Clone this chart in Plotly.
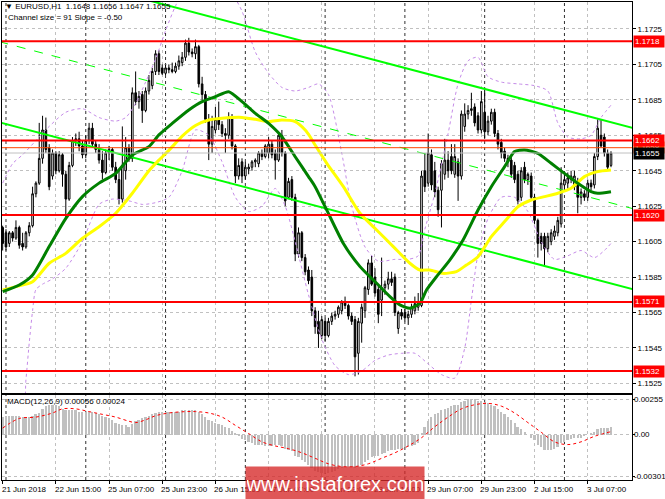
import plotly.graph_objects as go

# ---------------- data ----------------
bars = list(range(184))
opens = [
    1.1613,1.1610,1.1604,1.1610,1.1607,1.1613,1.1604,1.1602,1.1610,1.1614,
    1.1632,1.1638,1.1652,1.1668,1.1658,1.1642,1.1655,1.1645,1.1654,1.1643,
    1.1629,1.1648,1.1662,1.1663,1.1659,1.1654,1.1662,1.1669,1.1660,1.1657,
    1.1651,1.1644,1.1655,1.1657,1.1647,1.1640,1.1629,1.1645,1.1658,1.1652,
    1.1689,1.1684,1.1688,1.1679,1.1690,1.1693,1.1701,1.1711,1.1703,1.1700,
    1.1703,1.1702,1.1701,1.1704,1.1706,1.1709,1.1717,1.1712,1.1711,1.1715,
    1.1694,1.1688,1.1674,1.1660,1.1668,1.1674,1.1671,1.1666,1.1665,1.1675,
    1.1659,1.1642,1.1650,1.1642,1.1646,1.1647,1.1650,1.1649,1.1655,1.1653,
    1.1655,1.1660,1.1655,1.1651,1.1665,1.1655,1.1630,1.1640,1.1630,1.1598,
    1.1610,1.1596,1.1589,1.1585,1.1566,1.1560,1.1552,1.1560,1.1552,1.1560,
    1.1563,1.1564,1.1566,1.1571,1.1569,1.1563,1.1561,1.1542,1.1559,1.1566,
    1.1578,1.1593,1.1585,1.1578,1.1572,1.1579,1.1581,1.1584,1.1585,1.1556,
    1.1565,1.1565,1.1562,1.1564,1.1566,1.1568,1.1569,1.1645,1.1638,1.1654,
    1.1645,1.1634,1.1634,1.1643,1.1651,1.1653,1.1643,1.1650,1.1642,1.1670,
    1.1677,1.1679,1.1681,1.1676,1.1668,1.1678,1.1667,1.1673,1.1678,1.1666,
    1.1661,1.1656,1.1652,1.1651,1.1648,1.1643,1.1630,1.1647,1.1640,1.1642,
    1.1630,1.1617,1.1608,1.1608,1.1601,1.1605,1.1608,1.1610,1.1615,1.1637,
    1.1638,1.1640,1.1636,1.1638,1.1630,1.1632,1.1630,1.1638,1.1637,1.1653,
    1.1665,1.1664,1.1655,1.1648]
highs = [
    1.1614,1.1612,1.1611,1.1611,1.1617,1.1614,1.1610,1.1611,1.1616,1.1636,
    1.1639,1.1672,1.1676,1.1675,1.1660,1.1657,1.1656,1.1656,1.1655,1.1645,
    1.1650,1.1664,1.1666,1.1667,1.1662,1.1665,1.1672,1.1672,1.1662,1.1660,
    1.1656,1.1657,1.1659,1.1658,1.1650,1.1645,1.1670,1.1664,1.1660,1.1692,
    1.1701,1.1690,1.1690,1.1692,1.1699,1.1703,1.1713,1.1713,1.1705,1.1705,
    1.1705,1.1706,1.1706,1.1710,1.1712,1.1719,1.1720,1.1714,1.1719,1.1716,
    1.1698,1.1690,1.1677,1.1676,1.1681,1.1684,1.1673,1.1669,1.1678,1.1677,
    1.1660,1.1652,1.1652,1.1650,1.1649,1.1651,1.1652,1.1656,1.1657,1.1660,
    1.1664,1.1662,1.1657,1.1666,1.1668,1.1656,1.1641,1.1642,1.1632,1.1613,
    1.1611,1.1598,1.1591,1.1589,1.1568,1.1566,1.1563,1.1562,1.1562,1.1565,
    1.1566,1.1569,1.1572,1.1574,1.1570,1.1565,1.1563,1.1562,1.1570,1.1580,
    1.1595,1.1597,1.1590,1.1580,1.1596,1.1583,1.1588,1.1588,1.1587,1.1566,
    1.1567,1.1567,1.1566,1.1570,1.1574,1.1576,1.1645,1.1655,1.1666,1.1657,
    1.1650,1.1636,1.1651,1.1663,1.1656,1.1660,1.1660,1.1652,1.1679,1.1683,
    1.1682,1.1689,1.1683,1.1678,1.1690,1.1691,1.1676,1.1680,1.1680,1.1668,
    1.1663,1.1658,1.1654,1.1653,1.1650,1.1645,1.1647,1.1650,1.1644,1.1644,
    1.1632,1.1618,1.1610,1.1610,1.1610,1.1612,1.1614,1.1619,1.1647,1.1643,
    1.1644,1.1645,1.1645,1.1641,1.1635,1.1634,1.1640,1.1640,1.1655,1.1674,
    1.1674,1.1666,1.1657,1.1656]
lows = [
    1.1600,1.1600,1.1602,1.1605,1.1606,1.1601,1.1600,1.1601,1.1608,1.1613,
    1.1630,1.1637,1.1649,1.1655,1.1634,1.1640,1.1643,1.1644,1.1636,1.1618,
    1.1628,1.1647,1.1659,1.1656,1.1652,1.1652,1.1660,1.1658,1.1655,1.1649,
    1.1640,1.1643,1.1651,1.1645,1.1638,1.1626,1.1627,1.1640,1.1650,1.1650,
    1.1682,1.1680,1.1672,1.1678,1.1688,1.1691,1.1699,1.1699,1.1699,1.1699,
    1.1700,1.1700,1.1700,1.1702,1.1704,1.1707,1.1710,1.1709,1.1708,1.1692,
    1.1685,1.1672,1.1651,1.1655,1.1666,1.1668,1.1664,1.1655,1.1663,1.1657,
    1.1638,1.1640,1.1638,1.1640,1.1643,1.1645,1.1647,1.1647,1.1651,1.1652,
    1.1652,1.1652,1.1640,1.1650,1.1653,1.1625,1.1629,1.1628,1.1594,1.1596,
    1.1594,1.1586,1.1581,1.1563,1.1553,1.1545,1.1550,1.1549,1.1551,1.1558,
    1.1561,1.1562,1.1564,1.1567,1.1561,1.1558,1.1529,1.1530,1.1548,1.1562,
    1.1575,1.1580,1.1574,1.1559,1.1563,1.1575,1.1578,1.1580,1.1563,1.1553,
    1.1561,1.1560,1.1558,1.1562,1.1564,1.1566,1.1568,1.1633,1.1636,1.1634,
    1.1630,1.1619,1.1613,1.1640,1.1641,1.1643,1.1641,1.1628,1.1640,1.1667,
    1.1674,1.1676,1.1670,1.1666,1.1666,1.1663,1.1665,1.1671,1.1664,1.1657,
    1.1652,1.1650,1.1647,1.1641,1.1638,1.1626,1.1628,1.1638,1.1637,1.1628,
    1.1615,1.1596,1.1600,1.1591,1.1599,1.1603,1.1606,1.1608,1.1613,1.1634,
    1.1635,1.1638,1.1634,1.1621,1.1626,1.1628,1.1628,1.1634,1.1635,1.1651,
    1.1658,1.1653,1.1645,1.1647]
closes = [
    1.1604,1.1602,1.1610,1.1607,1.1613,1.1603,1.1602,1.1610,1.1614,1.1632,
    1.1638,1.1652,1.1668,1.1657,1.1636,1.1655,1.1645,1.1654,1.1643,1.1629,
    1.1648,1.1662,1.1663,1.1659,1.1654,1.1662,1.1669,1.1660,1.1657,1.1651,
    1.1644,1.1655,1.1657,1.1647,1.1640,1.1629,1.1648,1.1658,1.1652,1.1689,
    1.1684,1.1687,1.1679,1.1690,1.1696,1.1701,1.1711,1.1701,1.1700,1.1703,
    1.1702,1.1701,1.1704,1.1707,1.1709,1.1717,1.1712,1.1711,1.1715,1.1694,
    1.1688,1.1674,1.1660,1.1670,1.1674,1.1671,1.1666,1.1665,1.1675,1.1659,
    1.1642,1.1648,1.1642,1.1647,1.1647,1.1650,1.1651,1.1655,1.1653,1.1659,
    1.1660,1.1654,1.1651,1.1665,1.1655,1.1628,1.1639,1.1630,1.1598,1.1610,
    1.1596,1.1588,1.1583,1.1566,1.1557,1.1553,1.1561,1.1552,1.1560,1.1563,
    1.1564,1.1568,1.1571,1.1569,1.1563,1.1560,1.1540,1.1560,1.1568,1.1579,
    1.1593,1.1581,1.1576,1.1564,1.1579,1.1581,1.1584,1.1582,1.1565,1.1565,
    1.1563,1.1562,1.1564,1.1568,1.1570,1.1571,1.1642,1.1636,1.1655,1.1637,
    1.1633,1.1623,1.1649,1.1651,1.1645,1.1645,1.1653,1.1642,1.1677,1.1677,
    1.1679,1.1680,1.1672,1.1668,1.1684,1.1667,1.1673,1.1678,1.1666,1.1660,
    1.1655,1.1652,1.1650,1.1643,1.1640,1.1628,1.1645,1.1640,1.1643,1.1630,
    1.1617,1.1604,1.1604,1.1601,1.1608,1.1610,1.1611,1.1617,1.1638,1.1640,
    1.1641,1.1642,1.1642,1.1630,1.1633,1.1630,1.1638,1.1636,1.1653,1.1669,
    1.1659,1.1655,1.1647,1.1655]

tick_bars = [0, 16, 32, 48, 64, 80, 96, 112, 128, 144, 160, 176]
tick_labels = ["21 Jun 2018", "22 Jun 15:00", "25 Jun 07:00", "25 Jun 23:00",
               "26 Jun 15:00", "27 Jun 07:00", "27 Jun 23:00", "28 Jun 15:00",
               "29 Jun 07:00", "29 Jun 23:00", "2 Jul 15:00", "3 Jul 07:00"]
day_start_bars = [1, 25, 49, 73, 97, 121, 145, 169]

price_ticks = [1.1525, 1.1545, 1.1565, 1.1585, 1.1605, 1.1625, 1.1645,
               1.1665, 1.1685, 1.1705, 1.1725]
red_levels = [1.1718, 1.1662, 1.1620, 1.1571, 1.1532]
orange_level = 1.1658
bid_level = 1.1655

green_ma_bars = [0,5,9,14,19,24,29,34,39,44,47,51,56,60,64,68,72,76,80,84,88,92,94,97.5,
                 102.5,107.5,112.5,116.5,119.5,122.5,125.5,127.5,130.5,134.5,138.5,143,147,
                 151,154,157,161,165,169,173,177,179,183]
green_ma_vals = [1.15768,1.15805,1.15862,1.16022,1.16181,1.16304,1.16380,1.16435,1.16539,1.16586,
                 1.16652,1.16717,1.16793,1.16840,1.16868,1.16896,1.16840,1.16774,1.16717,1.16642,
                 1.16529,1.16417,1.16360,1.16228,1.16040,1.15909,1.15815,1.15740,1.15693,1.15674,
                 1.15702,1.15777,1.15852,1.15946,1.16059,1.16228,1.16360,1.16473,1.16558,1.16567,
                 1.16548,1.16492,1.16435,1.16379,1.16332,1.16323,1.16332]
yellow_ma_bars = [0,4,9,14,19,24,29,34,39,44,47,50,54,58,62,66,72,76,80,84,88,91,92.5,94,97.5,
                  102.5,107.5,112.5,117.5,122.5,125.5,128.5,132.5,136.5,139.5,143,147,151,155,
                  159,163,167,171,175,179,183]
yellow_ma_vals = [1.15777,1.15796,1.15824,1.15928,1.15984,1.16069,1.16134,1.16210,1.16323,1.16450,
                  1.16510,1.16565,1.16645,1.16705,1.16736,1.16746,1.16751,1.16740,1.16727,1.16736,
                  1.16727,1.16680,1.16642,1.16595,1.16492,1.16360,1.16210,1.16116,1.16022,1.15928,
                  1.15890,1.15890,1.15871,1.15881,1.15918,1.15965,1.16078,1.16163,1.16247,1.16285,
                  1.16304,1.16323,1.16351,1.16417,1.16445,1.16454]

band_upper_bars = [0,3,6,10,14,19,24,29,34,37,40,43,46,49,52,55,60,65,69,72,76,80,84,88,92,95,
                   98,102,105,109,113,118,122,125,127,130,134,137,140,143,146,150,155,160,164,
                   167,170,174,177,180,183]
band_upper_vals = [1.1638,1.1649,1.1654,1.1662,1.1670,1.1678,1.1680,1.1675,1.1673,1.1675,
                   1.1683,1.1695,1.1708,1.1724,1.1738,1.1748,1.1752,1.1752,1.1745,1.1735,
                   1.1712,1.1700,1.1692,1.1690,1.1692,1.1694,1.1688,1.1655,1.1625,1.1602,
                   1.1594,1.1595,1.1595,1.1597,1.1612,1.1632,1.1666,1.1694,1.1707,1.1709,
                   1.1698,1.1695,1.1694,1.1693,1.1690,1.1672,1.1664,1.1663,1.1665,1.1675,1.1682]
band_lower_bars = [0,6,7,8,9,10,12,15,19,24,29,33,38,42,46,50,54,58,62,66,70,74,78,82,85,88,
                   92,96,100,104,108,112,116,120,124,128,132,136,139,141,143,146,150,154,158,
                   162,166,170,174,178,181,183]
band_lower_vals = [1.1510,1.1510,1.1527,1.1548,1.1566,1.1578,1.1581,1.1584,1.1590,1.1605,
                   1.1626,1.1629,1.1628,1.1626,1.1627,1.1630,1.1645,1.1668,1.1665,1.1650,
                   1.1630,1.1622,1.1625,1.1635,1.1625,1.1605,1.1575,1.1550,1.1535,1.1530,
                   1.1532,1.1538,1.1541,1.1542,1.1542,1.1536,1.1530,1.1528,1.1545,1.1572,
                   1.1598,1.1618,1.1630,1.1630,1.1622,1.1605,1.1595,1.1597,1.1600,1.1596,
                   1.1600,1.1604]

channel_bars = [-1, 190]
channel_upper = [1.17633, 1.16689]
channel_mid = [1.17178, 1.16234]
channel_lower = [1.16723, 1.15779]

macd_hist = [
    0.0013,0.0014,0.0014,0.0014,0.0014,0.0014,0.0013,0.0013,0.0013,0.0014,0.0015,0.0016,
    0.0019,0.0021,0.0022,0.0022,0.0022,0.0021,0.0019,0.0018,0.0018,0.0018,0.0018,0.0017,
    0.0017,0.0017,0.0017,0.0017,0.0016,0.0015,0.0014,0.0013,0.0012,0.0011,0.0009,0.0008,
    0.0007,0.0007,0.0006,0.0008,0.0010,0.0011,0.0012,0.0013,0.0014,0.0015,0.0016,0.0017,
    0.0017,0.0017,0.0017,0.0017,0.0017,0.0017,0.0018,0.0018,0.0018,0.0018,0.0018,0.0017,
    0.0015,0.0013,0.0011,0.0010,0.0009,0.0008,0.0007,0.0006,0.0005,0.0003,0.0001,-0.0001,
    -0.0003,-0.0004,-0.0005,-0.0006,-0.0007,-0.0007,-0.0007,-0.0008,-0.0008,-0.0008,-0.0007,-0.0007,
    -0.0008,-0.0010,-0.0011,-0.0012,-0.0015,-0.0016,-0.0018,-0.0020,-0.0022,-0.0024,-0.0026,-0.0027,
    -0.0028,-0.0028,-0.0028,-0.0027,-0.0026,-0.0025,-0.0024,-0.0023,-0.0023,-0.0023,-0.0024,-0.0023,
    -0.0022,-0.0020,-0.0018,-0.0016,-0.0015,-0.0015,-0.0014,-0.0013,-0.0012,-0.0011,-0.0011,-0.0010,
    -0.0010,-0.0009,-0.0009,-0.0008,-0.0007,-0.0006,0.0001,0.0006,0.0010,0.0013,0.0015,0.0016,
    0.0018,0.0019,0.0020,0.0021,0.0022,0.0022,0.0024,0.0025,0.0026,0.0026,0.0026,0.0025,
    0.0025,0.0024,0.0023,0.0022,0.0021,0.0019,0.0017,0.0015,0.0013,0.0011,0.0009,0.0006,
    0.0004,0.0002,0.0000,-0.0002,-0.0004,-0.0007,-0.0009,-0.0011,-0.0011,-0.0011,-0.0010,-0.0009,
    -0.0006,-0.0005,-0.0004,-0.0003,-0.0002,-0.0002,-0.0002,-0.0001,0.0000,0.0001,0.0002,0.0004,
    0.0005,0.0005,0.0005,0.00056]
signal_bars = [0,5,10,15,18,22,26,30,34,38,40,43,46,50,55,58,62,66,70,74,78,82,86,90,94,98,
               102,106,110,114,118,122,126,130,134,138,142,146,150,154,158,162,166,170,174,178,183]
signal_vals = [0.0005,0.0012,0.0013,0.0016,0.0019,0.0019,0.0017,0.0015,0.0013,0.0010,
               0.0009,0.0011,0.0014,0.0016,0.0017,0.0017,0.0016,0.0013,0.0007,0.0001,
               -0.0005,-0.0008,-0.0010,-0.0013,-0.0017,-0.0021,-0.0023,-0.0023,-0.0021,-0.0017,
               -0.0013,-0.0008,-0.0002,0.0006,0.0013,0.0019,0.0022,0.0023,0.0021,0.0016,
               0.0009,0.0002,-0.0005,-0.0007,-0.0005,-0.0001,0.00024]
macd_ticks = [-0.00301, 0.0, 0.00255]
macd_ticktext = ["-0.00301", "0.00", "0.00255"]

# ---------------- layout helpers ----------------
W, H = 665, 499
ML, MR, MT, MB = 2, 33, 2, 19
PW, PH = W - ML - MR, H - MT - MB
def px_x(x):
    return (x - ML) / PW
def px_y(y):
    return (H - MB - y) / PH

FONT = "Liberation Sans"
GRID = "#c0c0c0"
BAND = "#c58be8"

fig = go.Figure()

# Bollinger-style dotted bands (drawn under candles)
for bx, by in [(band_upper_bars, band_upper_vals), (band_lower_bars, band_lower_vals)]:
    fig.add_trace(go.Scatter(x=bx, y=by, mode="lines",
                             line=dict(color=BAND, width=1, dash="dot", shape="spline", smoothing=0.7),
                             showlegend=False, hoverinfo="skip", xaxis="x", yaxis="y"))

fig.add_trace(go.Candlestick(
    x=bars, open=opens, high=highs, low=lows, close=closes,
    increasing=dict(line=dict(color="black", width=1), fillcolor="white"),
    decreasing=dict(line=dict(color="black", width=1), fillcolor="black"),
    whiskerwidth=0, showlegend=False, hoverinfo="skip", xaxis="x", yaxis="y"))

for ys, dash, wdt in [(channel_upper, "solid", 2), (channel_lower, "solid", 2), (channel_mid, "dash", 1)]:
    fig.add_trace(go.Scatter(x=channel_bars, y=ys, mode="lines",
                             line=dict(color="#00ff00", width=wdt, dash=dash),
                             showlegend=False, hoverinfo="skip", xaxis="x", yaxis="y"))

fig.add_trace(go.Scatter(x=yellow_ma_bars, y=yellow_ma_vals, mode="lines",
                         line=dict(color="#ffff00", width=3, shape="spline", smoothing=0.6),
                         showlegend=False, hoverinfo="skip", xaxis="x", yaxis="y"))
fig.add_trace(go.Scatter(x=green_ma_bars, y=green_ma_vals, mode="lines",
                         line=dict(color="#008000", width=3, shape="spline", smoothing=0.6),
                         showlegend=False, hoverinfo="skip", xaxis="x", yaxis="y"))

fig.add_trace(go.Bar(x=bars, y=macd_hist, marker=dict(color="#c0c0c0", line=dict(width=0)),
                     width=0.6, showlegend=False, hoverinfo="skip", xaxis="x2", yaxis="y2"))
fig.add_trace(go.Scatter(x=signal_bars, y=signal_vals, mode="lines",
                         line=dict(color="#ff0000", width=1, dash="dot", shape="spline"),
                         showlegend=False, hoverinfo="skip", xaxis="x2", yaxis="y2"))

# level lines
fig.add_hline(y=bid_level, line=dict(color="#c0c0c0", width=1))
fig.add_hline(y=orange_level, line=dict(color="#ff4500", width=1))
for lvl in red_levels:
    fig.add_hline(y=lvl, line=dict(color="#ff0000", width=2))

# day separators
for b in day_start_bars:
    fig.add_shape(type="line", xref="x", yref="paper", x0=b, x1=b, y0=0, y1=1,
                  line=dict(color="#303030", width=1, dash="dot"), layer="below")

xr = [-0.2, (W - MR - 2.7) / 3.324]
common_x = dict(range=xr, tickvals=tick_bars, showgrid=True, gridcolor=GRID, griddash="dot",
                gridwidth=1, zeroline=False, showline=True, linecolor="#000000", linewidth=1,
                mirror=True, fixedrange=True)
fig.update_layout(
    width=W, height=H, margin=dict(l=ML, r=MR, t=MT, b=MB, autoexpand=False),
    paper_bgcolor="white", plot_bgcolor="white", showlegend=False, bargap=0,
    font=dict(family=FONT, size=8, color="black"),
    xaxis=dict(domain=[0, 1], anchor="y", showticklabels=False, ticks="",
               rangeslider=dict(visible=False), **common_x),
    xaxis2=dict(domain=[0, 1], anchor="y2", matches="x", showticklabels=False,
                ticks="outside", ticklen=3, tickcolor="black", **common_x),
    yaxis=dict(domain=[px_y(393), 1], side="right", anchor="x",
               range=[1.15196, 1.17402], tickvals=price_ticks,
               ticktext=[f"{v:.4f}" for v in price_ticks],
               ticks="outside", ticklen=3, tickcolor="black",
               tickfont=dict(family=FONT, size=8, color="black"),
               showgrid=True, gridcolor=GRID, griddash="dot", zeroline=False,
               showline=True, linecolor="#000000", mirror=True, fixedrange=True),
    yaxis2=dict(domain=[0, px_y(395)], side="right", anchor="x2",
                range=[-0.00328, 0.00291], tickvals=macd_ticks, showticklabels=False,
                ticks="outside", ticklen=2, tickcolor="black",
                showgrid=True, gridcolor=GRID, griddash="dot", zeroline=False,
                showline=True, linecolor="#000000", mirror=True, fixedrange=True),
)

ann = []
# time labels, left-aligned at their tick like the terminal draws them
for b, lab in zip(tick_bars, tick_labels):
    ann.append(dict(xref="x2", yref="paper", x=b, y=px_y(489), xanchor="left",
                    yanchor="middle", text=lab, showarrow=False, xshift=-2, borderpad=0,
                    font=dict(family=FONT, size=8, color="black")))
# MACD scale labels (left-aligned just right of the axis)
for v, t in zip(macd_ticks, macd_ticktext):
    ann.append(dict(xref="paper", yref="y2", x=px_x(633), y=v, xanchor="left",
                    yanchor="middle", text=t, showarrow=False, borderpad=0,
                    font=dict(family=FONT, size=8, color="black")))
# price level tags on the right axis
def tag(price, color):
    ann.append(dict(xref="paper", yref="y", x=px_x(633), y=price, xanchor="left",
                    yanchor="middle", text=f"{price:.4f}", showarrow=False,
                    bgcolor=color, borderpad=1, width=28, align="left",
                    font=dict(family=FONT, size=8, color="white")))
tag(orange_level, "#ff4500")
for lvl in red_levels:
    tag(lvl, "#ff0000")
tag(bid_level, "#000000")

ann.append(dict(xref="paper", yref="paper", x=px_x(3), y=px_y(6), xanchor="left",
                yanchor="middle", showarrow=False,
                text="\u25bc EURUSD,H1  1.1648 1.1656 1.1647 1.1655",
                font=dict(family=FONT, size=8, color="black")))
ann.append(dict(xref="paper", yref="paper", x=px_x(6), y=px_y(18), xanchor="left",
                yanchor="middle", showarrow=False,
                text="Channel size = 91 Slope = -0.50",
                font=dict(family=FONT, size=8, color="black")))
ann.append(dict(xref="paper", yref="paper", x=px_x(5), y=px_y(401), xanchor="left",
                yanchor="middle", showarrow=False,
                text="MACD(12,26,9) 0.00056 0.00024",
                font=dict(family=FONT, size=8, color="black")))
ann.append(dict(xref="paper", yref="paper", x=px_x(245), y=px_y(484), xanchor="left",
                yanchor="middle", showarrow=False, text="www.instaforex.com",
                bgcolor="rgba(214,40,40,0.78)", width=176, height=31,
                font=dict(family=FONT, size=20, color="white")))
fig.update_layout(annotations=ann)

fig.write_html("out.html", config={"displayModeBar": False},
               post_script="document.body.style.margin='0';document.body.style.padding='0';"
                           "document.body.style.overflow='hidden';")
